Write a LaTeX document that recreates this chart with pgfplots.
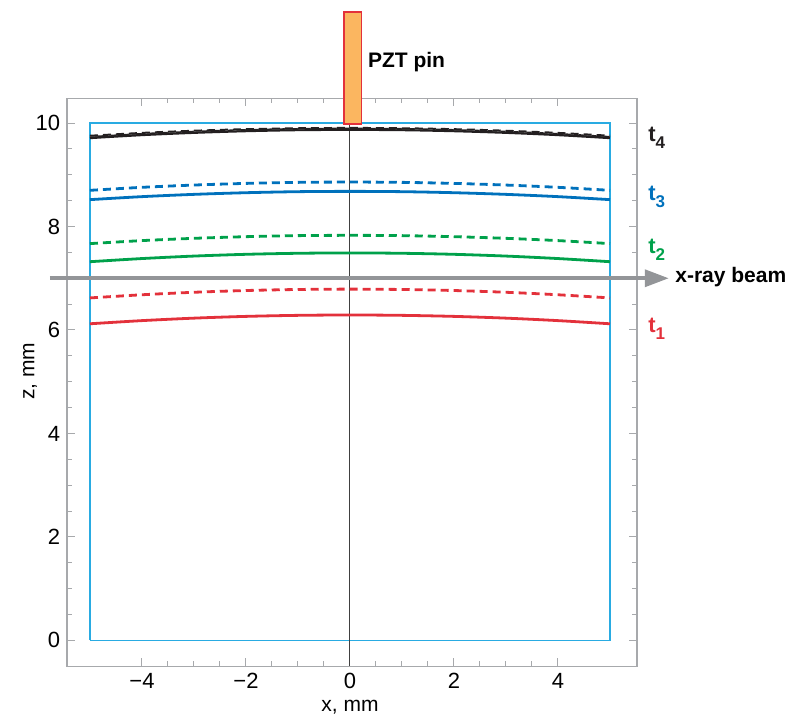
\documentclass[border=0pt]{standalone}
\usepackage{fontspec}
\setmainfont{Liberation Sans}
\usepackage{pgfplots}
\pgfplotsset{compat=1.18}
\usetikzlibrary{arrows.meta}
\definecolor{cred}{HTML}{E3313B}
\definecolor{cgreen}{HTML}{00A14B}
\definecolor{cblue}{HTML}{0071BC}
\definecolor{cblack}{HTML}{231F20}
\definecolor{ccyan}{HTML}{29ABE2}
\definecolor{corange}{HTML}{FBB660}
\definecolor{cgray}{HTML}{939598}
\definecolor{cframe}{HTML}{A7A9AC}
\newcommand{\tlab}[1]{t\raisebox{-3.5pt}{\fontsize{8.5}{10}\selectfont #1}}
\begin{document}
\begin{tikzpicture}
\begin{axis}[
  at={(0,0)}, anchor=south west,
  width=285pt, height=284pt, scale only axis,
  xmin=-5.44, xmax=5.52, ymin=-0.5, ymax=10.48,
  xtick={-4,-2,0,2,4}, ytick={0,2,4,6,8,10},
  xticklabels={−4,−2,0,2,4},
  minor x tick num=3, minor y tick num=3,
  tick align=inside,
  major tick length=4pt, minor tick length=2.5pt,
  axis line style={cframe, line width=0.6pt},
  every tick/.style={cframe, line width=0.5pt},
  tick label style={font=\fontsize{11}{12}\selectfont, black},
  /pgf/number format/assume math mode=true,
  clip=false,
]
% sample box
\addplot[ccyan, line width=0.6pt] coordinates {(-5,0) (5,0) (5,10) (-5,10) (-5,0)};
% vertical centre line
\addplot[black!75, line width=0.5pt] coordinates {(0,-0.5) (0,10.48)};
% t1
\addplot[cred, line width=1.4pt, smooth] coordinates {(-5,6.12) (-4,6.181) (-3,6.229) (-2,6.263) (-1,6.283) (0,6.29) (1,6.283) (2,6.263) (3,6.229) (4,6.181) (5,6.12)};
\addplot[cred, line width=1.4pt, smooth, dash pattern=on 4pt off 2.5pt] coordinates {(-5,6.62) (-4,6.681) (-3,6.729) (-2,6.763) (-1,6.783) (0,6.79) (1,6.783) (2,6.763) (3,6.729) (4,6.681) (5,6.62)};
% t2
\addplot[cgreen, line width=1.4pt, smooth] coordinates {(-5,7.32) (-4,7.381) (-3,7.429) (-2,7.463) (-1,7.483) (0,7.49) (1,7.483) (2,7.463) (3,7.429) (4,7.381) (5,7.32)};
\addplot[cgreen, line width=1.4pt, smooth, dash pattern=on 4pt off 2.5pt] coordinates {(-5,7.67) (-4,7.728) (-3,7.772) (-2,7.804) (-1,7.824) (0,7.83) (1,7.824) (2,7.804) (3,7.772) (4,7.728) (5,7.67)};
% t3
\addplot[cblue, line width=1.4pt, smooth] coordinates {(-5,8.52) (-4,8.578) (-3,8.622) (-2,8.654) (-1,8.674) (0,8.68) (1,8.674) (2,8.654) (3,8.622) (4,8.578) (5,8.52)};
\addplot[cblue, line width=1.4pt, smooth, dash pattern=on 4pt off 2.5pt] coordinates {(-5,8.70) (-4,8.758) (-3,8.802) (-2,8.834) (-1,8.854) (0,8.86) (1,8.854) (2,8.834) (3,8.802) (4,8.758) (5,8.70)};
% t4
\addplot[cblack, line width=1.6pt, smooth] coordinates {(-5,9.72) (-4,9.778) (-3,9.822) (-2,9.854) (-1,9.874) (0,9.88) (1,9.874) (2,9.854) (3,9.822) (4,9.778) (5,9.72)};
\addplot[white, line width=0.5pt, smooth, dash pattern=on 4pt off 2.5pt] coordinates {(-5,9.75) (-4,9.804) (-3,9.846) (-2,9.876) (-1,9.894) (0,9.90) (1,9.894) (2,9.876) (3,9.846) (4,9.804) (5,9.75)};
\addplot[cblack, line width=1.0pt, smooth, dash pattern=on 4pt off 2.5pt] coordinates {(-5,9.755) (-4,9.81) (-3,9.852) (-2,9.882) (-1,9.90) (0,9.906) (1,9.90) (2,9.882) (3,9.852) (4,9.81) (5,9.755)};
% x-ray beam
\addplot[cgray, line width=1.8pt, -{Triangle[length=12pt,width=8.5pt]}] coordinates {(-5.77,7.0) (6.13,7.0)};
\node[anchor=west, font=\bfseries\fontsize{10.5}{12}\selectfont, inner sep=0pt] at (axis cs:6.25,7.02) {x-ray beam};
% PZT pin
\draw[fill=corange, draw=cred, line width=0.8pt] (axis cs:-0.12,9.98) rectangle (axis cs:0.22,12.15);
\node[anchor=west, font=\bfseries\fontsize{10.5}{12}\selectfont, inner sep=0pt] at (axis cs:0.34,11.18) {PZT pin};
% labels
\node[anchor=base west, font=\bfseries\fontsize{11}{12}\selectfont, inner sep=0pt, cblack] at (axis cs:5.73,9.65) {\tlab{4}};
\node[anchor=base west, font=\bfseries\fontsize{11}{12}\selectfont, inner sep=0pt, cblue] at (axis cs:5.73,8.50) {\tlab{3}};
\node[anchor=base west, font=\bfseries\fontsize{11}{12}\selectfont, inner sep=0pt, cgreen] at (axis cs:5.73,7.48) {\tlab{2}};
\node[anchor=base west, font=\bfseries\fontsize{11}{12}\selectfont, inner sep=0pt, cred] at (axis cs:5.73,5.96) {\tlab{1}};
% axis labels
\node[rotate=90, font=\fontsize{10.5}{12}\selectfont] at (axis cs:-6.15,5.2) {z, mm};
\node[font=\fontsize{10.5}{12}\selectfont] at (axis cs:0,-1.30) {x, mm};
\coordinate (bl) at (axis cs:-6.73,-1.47);
\coordinate (tr) at (axis cs:8.385,12.38);
\end{axis}
\pgfresetboundingbox
\path[use as bounding box] (bl) rectangle (tr);
\end{tikzpicture}
\end{document}
